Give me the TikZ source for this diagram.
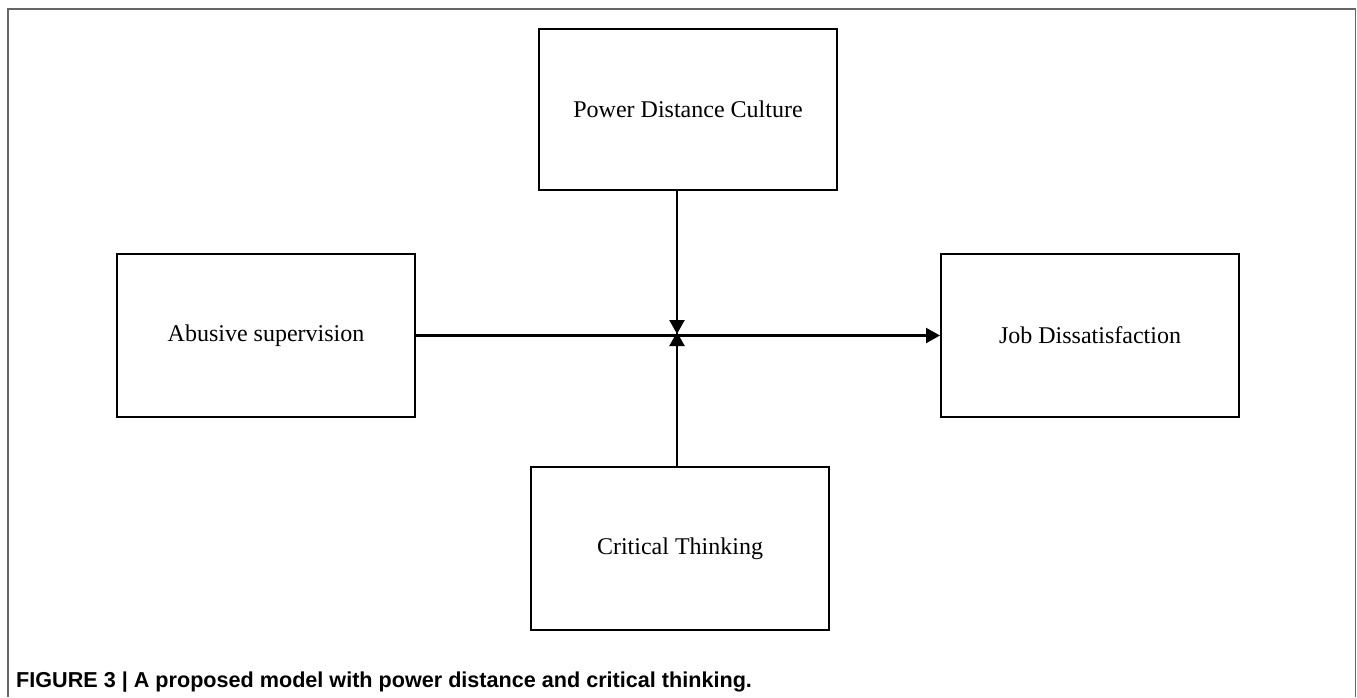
\documentclass[tikz,border=0pt]{standalone}
\usepackage{fontspec}
\setmainfont{Liberation Serif}
\newfontfamily\capfont{Liberation Sans}
\usetikzlibrary{arrows.meta}
\begin{document}
\begin{tikzpicture}[x=1pt,y=-1pt,
  box/.style={draw=black, line width=2pt, inner sep=0pt, minimum width=298pt, minimum height=163pt, font=\fontsize{24}{28}\selectfont},
  conn/.style={line width=2.2pt, -{Triangle[width=15pt,length=14pt]}},
  frameline/.style={draw=black!60, line width=1.5pt}]
\useasboundingbox (0,0) rectangle (1357,697);
\fill[white] (0,0) rectangle (1357,697);
\draw[frameline] (8,697) -- (8,9) -- (1355.5,9) -- (1355.5,697);
\node[box] (pdc) at (688,109.5) [minimum height=161pt] {Power Distance Culture};
\node[box] (abuse) at (266,335.5) {Abusive supervision};
\node[box] (job) at (1090,335.5) {Job Dissatisfaction};
\node[box] (ct) at (680,548.5) {Critical Thinking};
\coordinate (junc) at (677,334);
\draw[conn] (abuse.east) -- (job.west);
\draw[conn] (pdc.south -| junc) -- (junc);
\draw[conn] (ct.north -| junc) -- ([yshift=2pt]junc);
\node[anchor=base west, inner sep=0pt, font=\capfont\bfseries\fontsize{21.6}{24}\selectfont] (cap) at (16,687) {FIGURE 3 | A proposed model with power distance and critical thinking.};
\end{tikzpicture}
\end{document}
